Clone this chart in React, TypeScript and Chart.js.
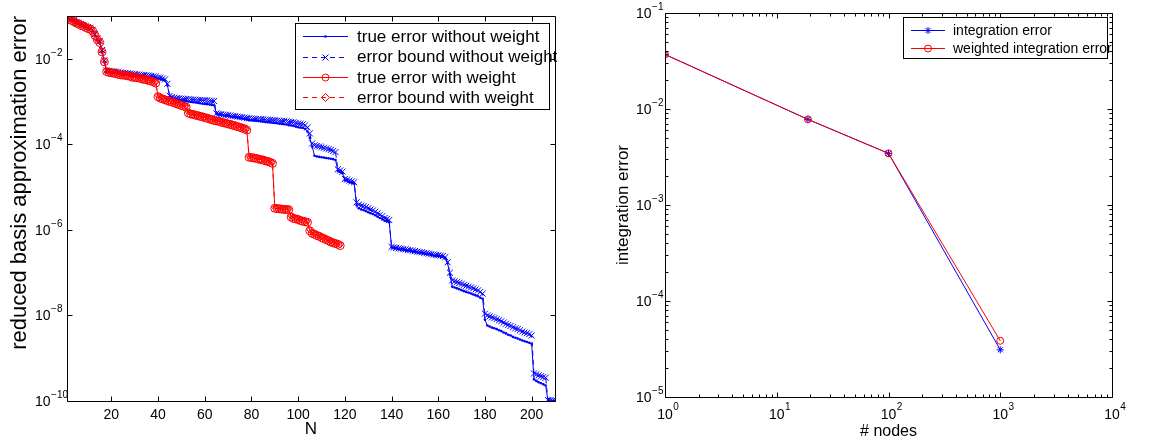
import React, { useEffect, useRef } from 'react';
import { Chart, registerables } from 'chart.js';

Chart.register(...registerables);

const FONT = '"Liberation Sans", Arial, Helvetica, sans-serif';
const BLUE = '#0000ff';
const RED = '#ff0000';

// ---------------- Left panel data ----------------
const nIndex = Array.from({ length: 210 }, (_, i) => i + 1);

const trueErrNoWeight = [
  8.9e-2, 8.3e-2, 7.9e-2, 7.4e-2, 6.8e-2, 6.5e-2, 6.0e-2, 5.8e-2, 5.4e-2, 5.1e-2,
  4.9e-2, 4.4e-2, 3.5e-2, 2.8e-2, 2.4e-2, 1.45e-2, 8.5e-3, 5.0e-3, 4.9e-3, 4.8e-3,
  4.75e-3, 4.7e-3, 4.6e-3, 4.5e-3, 4.45e-3, 4.4e-3, 4.3e-3, 4.25e-3, 4.2e-3, 4.1e-3,
  4.05e-3, 4.0e-3, 3.95e-3, 3.9e-3, 3.85e-3, 3.82e-3, 3.8e-3, 3.7e-3, 3.6e-3, 3.45e-3,
  3.4e-3, 3.25e-3, 3.1e-3, 2.4e-3, 1.3e-3, 1.2e-3, 1.15e-3, 1.12e-3, 1.1e-3, 1.07e-3,
  1.05e-3, 1.02e-3, 1.0e-3, 9.8e-4, 9.6e-4, 9.5e-4, 9.3e-4, 9.1e-4, 8.9e-4, 8.8e-4,
  8.7e-4, 8.5e-4, 8.3e-4, 8.2e-4, 5.2e-4, 5.0e-4, 4.9e-4, 4.8e-4, 4.7e-4, 4.6e-4,
  4.5e-4, 4.4e-4, 4.3e-4, 4.2e-4, 4.1e-4, 4.0e-4, 3.9e-4, 3.8e-4, 3.7e-4, 3.65e-4,
  3.6e-4, 3.55e-4, 3.5e-4, 3.45e-4, 3.4e-4, 3.33e-4, 3.3e-4, 3.25e-4, 3.2e-4, 3.15e-4,
  3.1e-4, 3.02e-4, 3.0e-4, 2.95e-4, 2.9e-4, 2.8e-4, 2.75e-4, 2.7e-4, 2.6e-4, 2.5e-4,
  2.45e-4, 2.4e-4, 2.3e-4, 2.0e-4, 1.4e-4, 8.9e-5, 5.4e-5, 5.2e-5, 5.1e-5, 5.0e-5,
  4.9e-5, 4.8e-5, 4.7e-5, 4.6e-5, 4.5e-5, 4.3e-5, 2.4e-5, 2.25e-5, 2.1e-5, 1.45e-5,
  1.4e-5, 1.3e-5, 1.25e-5, 1.2e-5, 3.8e-6, 3.2e-6, 3.0e-6, 2.9e-6, 2.75e-6, 2.6e-6,
  2.45e-6, 2.35e-6, 2.2e-6, 2.05e-6, 1.9e-6, 1.8e-6, 1.65e-6, 1.6e-6, 1.5e-6, 3.9e-7,
  3.8e-7, 3.7e-7, 3.6e-7, 3.55e-7, 3.45e-7, 3.4e-7, 3.3e-7, 3.25e-7, 3.15e-7, 3.1e-7,
  3.0e-7, 2.95e-7, 2.9e-7, 2.8e-7, 2.75e-7, 2.7e-7, 2.6e-7, 2.55e-7, 2.5e-7, 2.45e-7,
  2.4e-7, 2.35e-7, 2.2e-7, 1.65e-7, 8.9e-8, 4.7e-8, 4.5e-8, 4.3e-8, 4.1e-8, 3.9e-8,
  3.7e-8, 3.55e-8, 3.4e-8, 3.25e-8, 3.1e-8, 2.95e-8, 2.8e-8, 2.6e-8, 2.45e-8, 7.9e-9,
  5.8e-9, 5.5e-9, 5.2e-9, 5.0e-9, 4.8e-9, 4.5e-9, 4.3e-9, 4.0e-9, 3.8e-9, 3.55e-9,
  3.4e-9, 3.15e-9, 3.0e-9, 2.9e-9, 2.75e-9, 2.6e-9, 2.5e-9, 2.4e-9, 2.3e-9, 2.15e-9,
  3.2e-10, 2.95e-10, 2.75e-10, 2.6e-10, 2.45e-10, 2.3e-10, 1.02e-10, 1.01e-10, 1.0e-10, 1.0e-10,
];

const boundNoWeight = [
  9.4e-2, 8.9e-2, 8.5e-2, 8.0e-2, 7.3e-2, 7.0e-2, 6.5e-2, 6.2e-2, 5.8e-2, 5.5e-2,
  5.3e-2, 4.8e-2, 3.8e-2, 3.0e-2, 2.6e-2, 1.6e-2, 9.2e-3, 5.3e-3, 5.2e-3, 5.1e-3,
  5.05e-3, 5.0e-3, 4.9e-3, 4.8e-3, 4.7e-3, 4.65e-3, 4.55e-3, 4.5e-3, 4.45e-3, 4.35e-3,
  4.3e-3, 4.25e-3, 4.2e-3, 4.15e-3, 4.1e-3, 4.05e-3, 4.0e-3, 3.9e-3, 3.8e-3, 3.65e-3,
  3.6e-3, 3.45e-3, 3.3e-3, 2.6e-3, 1.36e-3, 1.27e-3, 1.23e-3, 1.2e-3, 1.19e-3, 1.17e-3,
  1.16e-3, 1.14e-3, 1.13e-3, 1.12e-3, 1.11e-3, 1.1e-3, 1.09e-3, 1.08e-3, 1.07e-3, 1.07e-3,
  1.06e-3, 1.05e-3, 1.04e-3, 1.03e-3, 5.3e-4, 5.15e-4, 5.05e-4, 4.95e-4, 4.9e-4, 4.8e-4,
  4.7e-4, 4.62e-4, 4.55e-4, 4.45e-4, 4.38e-4, 4.3e-4, 4.2e-4, 4.12e-4, 4.05e-4, 4.0e-4,
  3.97e-4, 3.93e-4, 3.9e-4, 3.86e-4, 3.82e-4, 3.77e-4, 3.75e-4, 3.72e-4, 3.68e-4, 3.65e-4,
  3.6e-4, 3.55e-4, 3.52e-4, 3.5e-4, 3.45e-4, 3.36e-4, 3.32e-4, 3.28e-4, 3.18e-4, 3.06e-4,
  3.0e-4, 2.95e-4, 2.8e-4, 2.5e-4, 1.8e-4, 1.05e-4, 9.5e-5, 9.2e-5, 8.9e-5, 8.6e-5,
  8.3e-5, 8.0e-5, 7.7e-5, 7.4e-5, 7.0e-5, 6.6e-5, 2.6e-5, 2.45e-5, 2.3e-5, 1.55e-5,
  1.5e-5, 1.42e-5, 1.36e-5, 1.3e-5, 4.4e-6, 3.9e-6, 3.7e-6, 3.55e-6, 3.4e-6, 3.2e-6,
  3.0e-6, 2.85e-6, 2.65e-6, 2.45e-6, 2.25e-6, 2.1e-6, 1.9e-6, 1.8e-6, 1.7e-6, 4.0e-7,
  3.9e-7, 3.8e-7, 3.7e-7, 3.65e-7, 3.55e-7, 3.5e-7, 3.4e-7, 3.35e-7, 3.25e-7, 3.2e-7,
  3.1e-7, 3.05e-7, 3.0e-7, 2.9e-7, 2.85e-7, 2.8e-7, 2.7e-7, 2.65e-7, 2.6e-7, 2.55e-7,
  2.5e-7, 2.45e-7, 2.3e-7, 1.75e-7, 1.0e-7, 6.6e-8, 6.3e-8, 6.0e-8, 5.75e-8, 5.45e-8,
  5.2e-8, 4.95e-8, 4.7e-8, 4.5e-8, 4.3e-8, 4.05e-8, 3.85e-8, 3.55e-8, 3.25e-8, 1.1e-8,
  1.0e-8, 9.5e-9, 9.0e-9, 8.6e-9, 8.2e-9, 7.7e-9, 7.3e-9, 6.8e-9, 6.4e-9, 6.0e-9,
  5.7e-9, 5.3e-9, 5.0e-9, 4.8e-9, 4.5e-9, 4.2e-9, 4.0e-9, 3.85e-9, 3.65e-9, 3.4e-9,
  4.4e-10, 4.2e-10, 4.0e-10, 3.8e-10, 3.65e-10, 3.5e-10, 1.05e-10, 1.04e-10, 1.03e-10, 1.02e-10,
];

const trueErrWeight = [
  8.9e-2, 8.3e-2, 7.9e-2, 7.4e-2, 6.8e-2, 6.5e-2, 6.0e-2, 5.8e-2, 5.4e-2, 5.1e-2,
  4.9e-2, 4.4e-2, 3.5e-2, 2.8e-2, 2.4e-2, 1.45e-2, 8.5e-3, 5.0e-3, 4.8e-3, 4.7e-3,
  4.6e-3, 4.5e-3, 4.3e-3, 4.2e-3, 4.15e-3, 4.1e-3, 4.0e-3, 3.9e-3, 3.7e-3, 3.65e-3,
  3.6e-3, 3.55e-3, 3.4e-3, 3.3e-3, 3.25e-3, 3.1e-3, 3.0e-3, 2.9e-3, 2.7e-3, 1.3e-3,
  1.2e-3, 1.15e-3, 1.1e-3, 1.05e-3, 1.0e-3, 9.8e-4, 9.3e-4, 8.9e-4, 8.5e-4, 8.1e-4,
  7.8e-4, 7.4e-4, 5.4e-4, 5.1e-4, 5.0e-4, 4.8e-4, 4.7e-4, 4.5e-4, 4.4e-4, 4.2e-4,
  4.1e-4, 3.9e-4, 3.8e-4, 3.6e-4, 3.55e-4, 3.45e-4, 3.3e-4, 3.2e-4, 3.1e-4, 3.0e-4,
  2.9e-4, 2.8e-4, 2.7e-4, 2.6e-4, 2.5e-4, 2.4e-4, 2.3e-4, 2.15e-4, 5.0e-5, 4.9e-5,
  4.8e-5, 4.7e-5, 4.5e-5, 4.4e-5, 4.3e-5, 4.1e-5, 4.0e-5, 3.8e-5, 3.6e-5, 3.2e-6,
  3.15e-6, 3.1e-6, 3.05e-6, 3.0e-6, 3.0e-6, 2.95e-6, 2.0e-6, 1.85e-6, 1.8e-6, 1.75e-6,
  1.65e-6, 1.6e-6, 1.55e-6, 1.5e-6, 9.5e-7, 8.3e-7, 7.9e-7, 7.4e-7, 7.1e-7, 6.6e-7,
  6.3e-7, 5.9e-7, 5.6e-7, 5.2e-7, 5.0e-7, 4.8e-7, 4.6e-7, 4.3e-7,
];

const boundWeight = [
  9.3e-2, 8.7e-2, 8.3e-2, 7.8e-2, 7.1e-2, 6.8e-2, 6.3e-2, 6.1e-2, 5.7e-2, 5.4e-2,
  5.1e-2, 4.6e-2, 3.7e-2, 2.9e-2, 2.5e-2, 1.5e-2, 8.9e-3, 5.25e-3, 5.0e-3, 4.9e-3,
  4.8e-3, 4.7e-3, 4.5e-3, 4.4e-3, 4.35e-3, 4.3e-3, 4.2e-3, 4.1e-3, 3.9e-3, 3.85e-3,
  3.8e-3, 3.7e-3, 3.6e-3, 3.45e-3, 3.4e-3, 3.25e-3, 3.15e-3, 3.05e-3, 2.85e-3, 1.37e-3,
  1.26e-3, 1.2e-3, 1.15e-3, 1.1e-3, 1.05e-3, 1.03e-3, 9.8e-4, 9.3e-4, 8.9e-4, 8.5e-4,
  8.2e-4, 7.8e-4, 5.7e-4, 5.4e-4, 5.25e-4, 5.0e-4, 4.9e-4, 4.7e-4, 4.6e-4, 4.4e-4,
  4.3e-4, 4.1e-4, 4.0e-4, 3.8e-4, 3.7e-4, 3.6e-4, 3.45e-4, 3.35e-4, 3.25e-4, 3.15e-4,
  3.05e-4, 2.95e-4, 2.85e-4, 2.75e-4, 2.6e-4, 2.5e-4, 2.4e-4, 2.25e-4, 5.25e-5, 5.15e-5,
  5.0e-5, 4.9e-5, 4.7e-5, 4.6e-5, 4.5e-5, 4.3e-5, 4.2e-5, 4.0e-5, 3.8e-5, 3.35e-6,
  3.3e-6, 3.25e-6, 3.2e-6, 3.15e-6, 3.15e-6, 3.1e-6, 2.1e-6, 1.95e-6, 1.9e-6, 1.85e-6,
  1.75e-6, 1.7e-6, 1.65e-6, 1.6e-6, 1.0e-6, 8.7e-7, 8.3e-7, 7.8e-7, 7.5e-7, 6.9e-7,
  6.6e-7, 6.2e-7, 5.9e-7, 5.5e-7, 5.25e-7, 5.0e-7, 4.8e-7, 4.5e-7,
];

const leftXTicks = [20, 40, 60, 80, 100, 120, 140, 160, 180, 200];
const leftYTicks = [1e-10, 1e-8, 1e-6, 1e-4, 1e-2];
const leftLegendLabels = [
  'true error without weight',
  'error bound without weight',
  'true error with weight',
  'error bound with weight',
];

// ---------------- Right panel data ----------------
const nodes = [1, 19, 100, 1000];
const integrationError = [3.7e-2, 7.8e-3, 3.45e-3, 3.1e-5];
const weightedIntegrationError = [3.7e-2, 7.8e-3, 3.45e-3, 3.85e-5];
const rightXTicks = [1, 10, 100, 1000, 10000];
const rightYTicks = [1e-5, 1e-4, 1e-3, 1e-2, 1e-1];
const rightLegendLabels = ['integration error', 'weighted integration error'];

// ---------------- helpers ----------------
function expText(v: number): string {
  const e = Math.round(Math.log10(v));
  return e < 0 ? '\u2212' + String(-e) : String(e);
}

function minorLogTicks(fromExp: number, toExp: number): number[] {
  const out: number[] = [];
  for (let k = fromExp; k < toExp; k++) {
    for (let m = 2; m <= 9; m++) out.push(m * Math.pow(10, k));
  }
  return out;
}

function drawMarker(ctx: CanvasRenderingContext2D, style: string, x: number, y: number, r: number, color: string) {
  ctx.save();
  ctx.strokeStyle = color;
  ctx.fillStyle = color;
  ctx.lineWidth = 1;
  ctx.setLineDash([]);
  ctx.beginPath();
  if (style === 'dot') {
    ctx.arc(x, y, r, 0, Math.PI * 2);
    ctx.fill();
  } else if (style === 'cross') {
    ctx.moveTo(x - r, y - r); ctx.lineTo(x + r, y + r);
    ctx.moveTo(x - r, y + r); ctx.lineTo(x + r, y - r);
    ctx.stroke();
  } else if (style === 'circle') {
    ctx.arc(x, y, r, 0, Math.PI * 2);
    ctx.stroke();
  } else if (style === 'diamond') {
    ctx.moveTo(x, y - r); ctx.lineTo(x + r, y); ctx.lineTo(x, y + r); ctx.lineTo(x - r, y);
    ctx.closePath();
    ctx.stroke();
  } else if (style === 'star') {
    ctx.moveTo(x - r, y); ctx.lineTo(x + r, y);
    ctx.moveTo(x, y - r); ctx.lineTo(x, y + r);
    const d = r * 0.72;
    ctx.moveTo(x - d, y - d); ctx.lineTo(x + d, y + d);
    ctx.moveTo(x - d, y + d); ctx.lineTo(x + d, y - d);
    ctx.stroke();
  }
  ctx.restore();
}

function makeAxesPlugin(cfg: { xMajor: number[]; yMajor: number[]; xMinor: number[]; yMinor: number[] }) {
  return {
    id: 'matlabAxes',
    afterDatasetsDraw(chart: any) {
      const { ctx, chartArea } = chart;
      const left = Math.round(chartArea.left) + 0.5;
      const right = Math.round(chartArea.right) + 0.5;
      const top = Math.round(chartArea.top) + 0.5;
      const bottom = Math.round(chartArea.bottom) + 0.5;
      const xs = chart.scales.x;
      const ys = chart.scales.y;
      ctx.save();
      ctx.strokeStyle = '#000';
      ctx.lineWidth = 1;
      ctx.setLineDash([]);
      ctx.beginPath();
      ctx.moveTo(left, top); ctx.lineTo(right, top); ctx.lineTo(right, bottom); ctx.lineTo(left, bottom); ctx.closePath();
      const xt = (v: number, len: number) => {
        const p = Math.round(xs.getPixelForValue(v)) + 0.5;
        ctx.moveTo(p, bottom); ctx.lineTo(p, bottom - len);
        ctx.moveTo(p, top); ctx.lineTo(p, top + len);
      };
      const yt = (v: number, len: number) => {
        const p = Math.round(ys.getPixelForValue(v)) + 0.5;
        ctx.moveTo(left, p); ctx.lineTo(left + len, p);
        ctx.moveTo(right, p); ctx.lineTo(right - len, p);
      };
      cfg.xMajor.forEach((v) => xt(v, 5));
      cfg.yMajor.forEach((v) => yt(v, 5));
      cfg.xMinor.forEach((v) => xt(v, 3));
      cfg.yMinor.forEach((v) => yt(v, 3));
      ctx.stroke();
      ctx.restore();
    },
  };
}

// Power-of-ten tick labels ("10" with a raised, smaller exponent), placed through the scales
function makePow10LabelPlugin(cfg: { yTicks?: number[]; yLabelX?: number; xTicks?: number[]; xLabelY?: number }) {
  return {
    id: 'pow10Labels',
    afterDraw(chart: any) {
      const ctx: CanvasRenderingContext2D = chart.ctx;
      ctx.save();
      ctx.fillStyle = '#000';
      ctx.textAlign = 'left';
      ctx.textBaseline = 'middle';
      const base = `14px ${FONT}`;
      const sup = `10px ${FONT}`;
      ctx.font = base;
      const w10 = ctx.measureText('10').width;
      if (cfg.yTicks) {
        cfg.yTicks.forEach((v) => {
          const py = chart.scales.y.getPixelForValue(v);
          ctx.font = base;
          ctx.fillText('10', cfg.yLabelX as number, py + 1);
          ctx.font = sup;
          ctx.fillText(expText(v), (cfg.yLabelX as number) + w10 + 0.5, py - 6);
        });
      }
      if (cfg.xTicks) {
        cfg.xTicks.forEach((v) => {
          const px = chart.scales.x.getPixelForValue(v);
          const x0 = px - w10 / 2;
          ctx.font = base;
          ctx.fillText('10', x0, cfg.xLabelY as number);
          ctx.font = sup;
          ctx.fillText(expText(v), x0 + w10 + 0.5, (cfg.xLabelY as number) - 8);
        });
      }
      ctx.restore();
    },
  };
}

type LegendRow = { text: string; color: string; dash: number[]; marker: string; r: number };
function makeLegendPlugin(cfg: {
  box: [number, number, number, number];
  rows: LegendRow[];
  rowY: number[];
  lineX: [number, number];
  textX: number;
  fontSize: number;
}) {
  return {
    id: 'matlabLegend',
    afterDraw(chart: any) {
      const ctx: CanvasRenderingContext2D = chart.ctx;
      const [x1, y1, x2, y2] = cfg.box;
      ctx.save();
      ctx.fillStyle = '#fff';
      ctx.fillRect(x1, y1, x2 - x1, y2 - y1);
      ctx.strokeStyle = '#000';
      ctx.lineWidth = 1;
      ctx.setLineDash([]);
      ctx.strokeRect(x1 + 0.5, y1 + 0.5, x2 - x1, y2 - y1);
      cfg.rows.forEach((row, i) => {
        const y = Math.round(cfg.rowY[i]) + 0.5;
        ctx.strokeStyle = row.color;
        ctx.setLineDash(row.dash);
        ctx.beginPath();
        ctx.moveTo(cfg.lineX[0], y);
        ctx.lineTo(cfg.lineX[1], y);
        ctx.stroke();
        ctx.setLineDash([]);
        drawMarker(ctx, row.marker, (cfg.lineX[0] + cfg.lineX[1]) / 2, y, row.r, row.color);
        ctx.fillStyle = '#000';
        ctx.font = `${cfg.fontSize}px ${FONT}`;
        ctx.textBaseline = 'middle';
        ctx.textAlign = 'left';
        ctx.fillText(row.text, cfg.textX, cfg.rowY[i] + 1);
      });
      ctx.restore();
    },
  };
}

const tickFont = { family: FONT, size: 14 };

function LeftChart() {
  const ref = useRef<HTMLCanvasElement>(null);
  useEffect(() => {
    const pts = (arr: number[]) => arr.map((v, i) => ({ x: nIndex[i], y: v }));
    const chart = new Chart(ref.current as HTMLCanvasElement, {
      type: 'line',
      data: {
        datasets: [
          {
            label: leftLegendLabels[0], data: pts(trueErrNoWeight), order: 3,
            borderColor: BLUE, borderWidth: 1, pointStyle: 'circle', pointRadius: 1.3,
            pointBorderWidth: 0, pointBackgroundColor: BLUE, pointBorderColor: BLUE, tension: 0, fill: false,
          },
          {
            label: leftLegendLabels[1], data: pts(boundNoWeight), order: 2,
            borderColor: BLUE, borderWidth: 1, borderDash: [5, 4], pointStyle: 'crossRot', pointRadius: 4.3,
            pointBorderWidth: 1, pointBorderColor: BLUE, pointBackgroundColor: BLUE, tension: 0, fill: false,
          },
          {
            label: leftLegendLabels[2], data: pts(trueErrWeight), order: 0,
            borderColor: RED, borderWidth: 1, pointStyle: 'circle', pointRadius: 4,
            pointBorderWidth: 1, pointBorderColor: RED, pointBackgroundColor: 'rgba(0,0,0,0)', tension: 0, fill: false,
          },
          {
            label: leftLegendLabels[3], data: pts(boundWeight), order: 1,
            borderColor: RED, borderWidth: 1, borderDash: [5, 4], pointStyle: 'rectRot', pointRadius: 3,
            pointBorderWidth: 1, pointBorderColor: RED, pointBackgroundColor: 'rgba(0,0,0,0)', tension: 0, fill: false,
          },
        ],
      },
      options: {
        animation: false,
        responsive: false,
        maintainAspectRatio: false,
        events: [],
        layout: { padding: { left: 0, right: 25, top: 16, bottom: 0 } },
        plugins: { legend: { display: false }, tooltip: { enabled: false } },
        scales: {
          x: {
            type: 'linear', min: 1, max: 210,
            grid: { display: false, drawTicks: false }, border: { display: false },
            afterBuildTicks: (s: any) => { s.ticks = leftXTicks.map((v) => ({ value: v })); },
            afterFit: (s: any) => { s.height = 44; },
            ticks: { font: tickFont, color: '#000', padding: 6, maxRotation: 0, autoSkip: false },
            title: { display: true, text: 'N', color: '#000', font: { family: FONT, size: 17 }, padding: { top: 0, bottom: 5 } },
          },
          y: {
            type: 'logarithmic', min: 1e-10, max: 1e-1,
            grid: { display: false, drawTicks: false }, border: { display: false },
            afterBuildTicks: (s: any) => { s.ticks = leftYTicks.map((v) => ({ value: v })); },
            afterFit: (s: any) => { s.width = 67; },
            ticks: { display: false },
            title: {
              display: true, text: 'reduced basis approximation error', color: '#000', align: 'end',
              font: { family: FONT, size: 22 }, padding: { top: 7, bottom: 0 },
            },
          },
        },
      } as any,
      plugins: [
        makeAxesPlugin({ xMajor: leftXTicks, yMajor: leftYTicks, xMinor: [], yMinor: [] }),
        makePow10LabelPlugin({ yTicks: leftYTicks, yLabelX: 35 }),
        makeLegendPlugin({
          box: [295, 23, 549, 109],
          rows: [
            { text: leftLegendLabels[0], color: BLUE, dash: [], marker: 'dot', r: 1.3 },
            { text: leftLegendLabels[1], color: BLUE, dash: [5, 4], marker: 'cross', r: 3 },
            { text: leftLegendLabels[2], color: RED, dash: [], marker: 'circle', r: 3.5 },
            { text: leftLegendLabels[3], color: RED, dash: [5, 4], marker: 'diamond', r: 4 },
          ],
          rowY: [36, 56.5, 77, 97],
          lineX: [303, 348],
          textX: 357,
          fontSize: 17,
        }),
      ],
    });
    return () => chart.destroy();
  }, []);
  return (
    <canvas
      ref={ref}
      width={580}
      height={445}
      style={{ position: 'absolute', left: 0, top: 0, width: 580, height: 445 }}
    />
  );
}

function RightChart() {
  const ref = useRef<HTMLCanvasElement>(null);
  useEffect(() => {
    const pts = (arr: number[]) => arr.map((v, i) => ({ x: nodes[i], y: v }));
    const chart = new Chart(ref.current as HTMLCanvasElement, {
      type: 'line',
      data: {
        datasets: [
          {
            label: rightLegendLabels[0], data: pts(integrationError), order: 1,
            borderColor: BLUE, borderWidth: 1, pointStyle: 'star', pointRadius: 3.5,
            pointBorderWidth: 1, pointBorderColor: BLUE, pointBackgroundColor: BLUE, tension: 0, fill: false,
          },
          {
            label: rightLegendLabels[1], data: pts(weightedIntegrationError), order: 0,
            borderColor: RED, borderWidth: 1, pointStyle: 'circle', pointRadius: 3.5,
            pointBorderWidth: 1, pointBorderColor: RED, pointBackgroundColor: 'rgba(0,0,0,0)', tension: 0, fill: false,
          },
        ],
      },
      options: {
        animation: false,
        responsive: false,
        maintainAspectRatio: false,
        events: [],
        layout: { padding: { left: 0, right: 62, top: 13, bottom: 0 } },
        plugins: { legend: { display: false }, tooltip: { enabled: false } },
        scales: {
          x: {
            type: 'logarithmic', min: 1, max: 10000,
            grid: { display: false, drawTicks: false }, border: { display: false },
            afterBuildTicks: (s: any) => { s.ticks = rightXTicks.map((v) => ({ value: v })); },
            afterFit: (s: any) => { s.height = 48; },
            ticks: { display: false },
            title: { display: true, text: '# nodes', color: '#000', font: { family: FONT, size: 16 }, padding: { top: 0, bottom: 4 } },
          },
          y: {
            type: 'logarithmic', min: 1e-5, max: 1e-1,
            grid: { display: false, drawTicks: false }, border: { display: false },
            afterBuildTicks: (s: any) => { s.ticks = rightYTicks.map((v) => ({ value: v })); },
            afterFit: (s: any) => { s.width = 85; },
            ticks: { display: false },
            title: { display: true, text: 'integration error', color: '#000', font: { family: FONT, size: 17 }, padding: { top: 33, bottom: 0 } },
          },
        },
      } as any,
      plugins: [
        makeAxesPlugin({ xMajor: rightXTicks, yMajor: rightYTicks, xMinor: minorLogTicks(0, 4), yMinor: minorLogTicks(-5, -1) }),
        makePow10LabelPlugin({ yTicks: rightYTicks, yLabelX: 56, xTicks: rightXTicks, xLabelY: 415 }),
        makeLegendPlugin({
          box: [323, 17, 527, 58],
          rows: [
            { text: rightLegendLabels[0], color: BLUE, dash: [], marker: 'star', r: 3.5 },
            { text: rightLegendLabels[1], color: RED, dash: [], marker: 'circle', r: 3.5 },
          ],
          rowY: [30, 48],
          lineX: [331, 365],
          textX: 373,
          fontSize: 14,
        }),
      ],
    });
    return () => chart.destroy();
  }, []);
  return (
    <canvas
      ref={ref}
      width={594}
      height={445}
      style={{ position: 'absolute', left: 580, top: 0, width: 594, height: 445 }}
    />
  );
}

export default function App() {
  return (
    <div style={{ position: 'absolute', left: 0, top: 0, width: 1174, height: 445, background: '#fff', overflow: 'hidden' }}>
      <LeftChart />
      <RightChart />
    </div>
  );
}
